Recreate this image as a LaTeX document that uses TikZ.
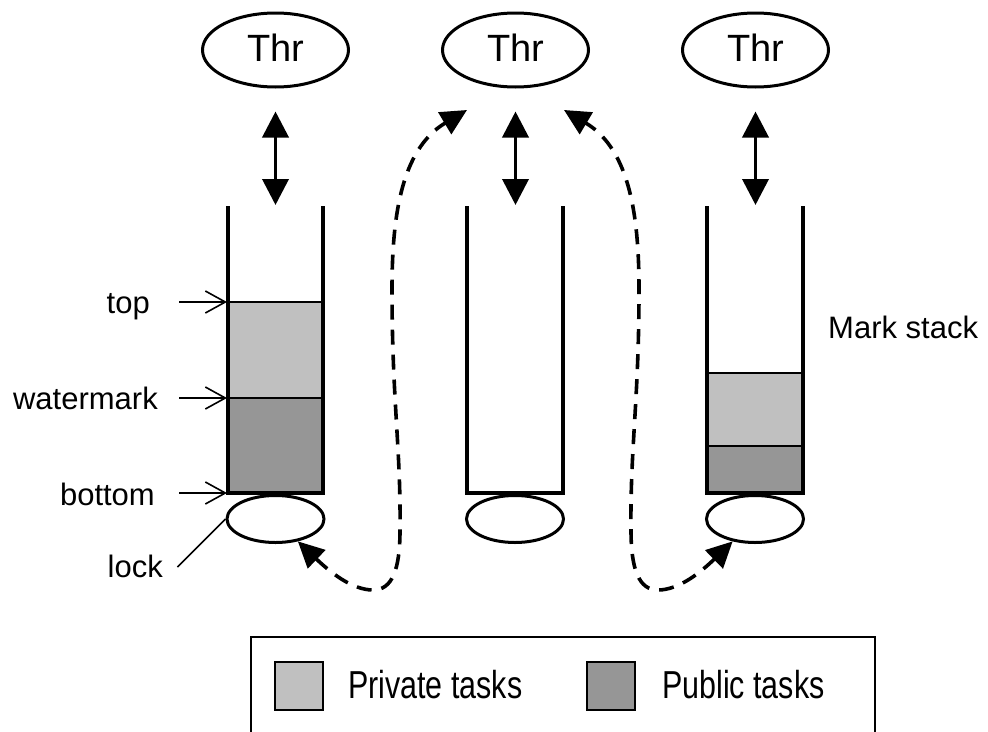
\documentclass[tikz,border=0pt]{standalone}
\usepackage{fontspec}
\setmainfont{Liberation Sans}
\newfontfamily\narrowsans{Liberation Sans}[FakeStretch=0.78]
\usetikzlibrary{arrows.meta,shapes.geometric}
\definecolor{privgray}{HTML}{C0C0C0}
\definecolor{pubgray}{HTML}{969696}
\tikzset{
  thread/.style={ellipse, draw, line width=3pt, minimum width=146pt, minimum height=74pt,
    inner sep=0pt, font=\fontsize{38}{40}\selectfont, text height=27pt, text depth=5pt},
  lockbox/.style={ellipse, draw, line width=3pt, minimum width=97pt, minimum height=47pt,
    inner sep=0pt, fill=white},
  wall/.style={line width=3.6pt},
  sep/.style={line width=2pt},
  access/.style={line width=3.8pt,
    {Triangle[length=26pt,width=26pt]}-{Triangle[length=26pt,width=26pt]}},
  steal/.style={line width=3.6pt, dash pattern=on 15pt off 10pt,
    {Triangle[length=26pt,width=25pt]}-{Triangle[length=26pt,width=25pt]}},
  ptr/.style={line width=1.6pt, -{Straight Barb[length=20pt,width=22pt]}},
  lab/.style={font=\fontsize{31}{36}\selectfont, inner sep=0pt},
  legkey/.style={draw, line width=1.6pt, minimum size=48pt, inner sep=0pt},
  legtext/.style={font=\narrowsans\fontsize{39}{44}\selectfont, inner sep=0pt, anchor=base west},
}
\begin{document}
\begin{tikzpicture}[x=1pt,y=-1pt]
\useasboundingbox (0,0) rectangle (988,731);

% threads
\node[thread] (t1) at (275.5,50) {Thr};
\node[thread] (t2) at (515.5,50) {Thr};
\node[thread] (t3) at (755.5,50) {Thr};

% stack contents
\draw[sep, fill=privgray] (228,302) rectangle (323,398);
\draw[sep, fill=pubgray]  (228,398) rectangle (323,493);
\draw[sep, fill=privgray] (707,373) rectangle (803,446);
\draw[sep, fill=pubgray]  (707,446) rectangle (803,493);

% stack walls
\draw[wall] (228,206) -- (228,493) -- (323,493) -- (323,206);
\draw[wall] (467,206) -- (467,493) -- (563,493) -- (563,206);
\draw[wall] (707,206) -- (707,493) -- (803,493) -- (803,206);

% locks
\node[lockbox] (l1) at (275.5,519) {};
\node[lockbox] (l2) at (515,519) {};
\node[lockbox] (l3) at (755,519) {};

% thread <-> stack access
\coordinate (s1) at (275.5,205);
\coordinate (s2) at (515.5,205);
\coordinate (s3) at (755.5,205);
\draw[access, shorten <=23pt] (t1.south) -- (s1);
\draw[access, shorten <=23pt] (t2.south) -- (s2);
\draw[access, shorten <=23pt] (t3.south) -- (s3);

% labels and pointers
\node[lab, anchor=base east] (ltop)  at (150,313) {top};
\node[lab, anchor=base east] (lwm)   at (158,409) {watermark};
\node[lab, anchor=base east] (lbot)  at (155,505) {bottom};
\node[lab, anchor=base east] (llock) at (163,577) {lock};
\node[lab, anchor=base west] (lms)   at (828,338) {Mark stack};

\coordinate (ptop) at (227,302);
\coordinate (pwm)  at (227,398);
\coordinate (pbot) at (227,493);
\draw[ptr] (ptop) ++(-48,0) -- (ptop);
\draw[ptr] (pwm)  ++(-48,0) -- (pwm);
\draw[ptr] (pbot) ++(-48,0) -- (pbot);
\draw[line width=1.6pt] (l1.west) -- ++(-48,48);

% stealing paths
\coordinate (a1) at (467,110);
\coordinate (a2) at (564,110);
\draw[steal] (l1.-45) .. controls (330,572) and (352,590) .. (373,590)
  .. controls (392,590) and (400,570) .. (400,530)
  .. controls (401,450) and (392,400) .. (392,290)
  .. controls (392,220) and (400,150) .. (a1);
\draw[steal] (l3.-135) .. controls (701,572) and (679,590) .. (658,590)
  .. controls (639,590) and (631,570) .. (631,530)
  .. controls (630,450) and (639,400) .. (639,290)
  .. controls (639,220) and (631,150) .. (a2);

% legend
\draw[line width=1.4pt] (251,731.5) -- (251,637) -- (875,637) -- (875,731.5);
\node[legkey, fill=privgray] (kpriv) at (299,686) {};
\node[legtext] (tpriv) at (348,698) {Private tasks};
\node[legkey, fill=pubgray] (kpub) at (611,686) {};
\node[legtext] (tpub) at (662,698) {Public tasks};
\end{tikzpicture}
\end{document}
